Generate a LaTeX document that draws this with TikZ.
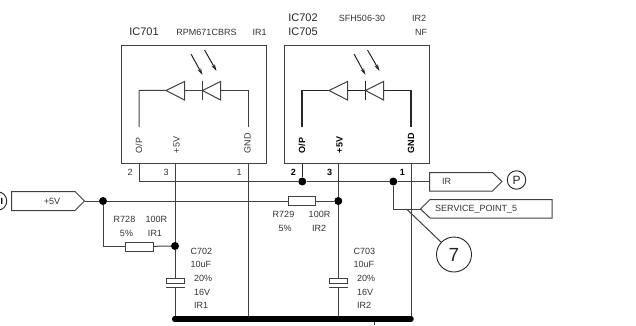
\documentclass[tikz,border=0pt]{standalone}
\usepackage{fontspec}
\setmainfont{Liberation Sans}
\usetikzlibrary{arrows.meta}
\tikzset{
  wire/.style={line width=1pt,black!75},
  heavy/.style={line width=1.2pt,black!85},
  tag/.style={line width=1pt,black!75},
  jn/.style={circle,fill=black,inner sep=0pt,minimum size=8pt},
  jns/.style={circle,fill=black,inner sep=0pt,minimum size=6pt},
  lbl/.style={inner sep=0pt,font=\fontsize{9}{10}\selectfont,text=black!80},
  big/.style={inner sep=0pt,font=\fontsize{11}{12}\selectfont,text=black!85},
  pinl/.style={lbl,rotate=90},
  num/.style={lbl},
  numb/.style={lbl,font=\fontsize{9}{10}\selectfont\bfseries,text=black},
  pinb/.style={pinl,font=\fontsize{9}{10}\selectfont\bfseries,text=black},
  res/.style={draw,black!75,line width=1pt,fill=white,minimum width=27.5pt,minimum height=9pt,inner sep=0pt},
  ring/.style={draw,circle,black!85,line width=0.9pt,inner sep=0pt},
  ray/.style={-{Stealth[open,length=7pt,width=4pt]},line width=1pt,black!85}
}
\begin{document}
\begin{tikzpicture}[x=1pt,y=-1pt]
  \useasboundingbox (0,0) rectangle (636,326);
  % IC701
  \node[big] (ic701) at (144,31.5) {IC701};
  \node[lbl] (type1) at (206.5,32.5) {RPM671CBRS};
  \node[lbl] (ir1) at (259.5,32.5) {IR1};
  \node[draw,wire,minimum width=145pt,minimum height=118pt,inner sep=0pt] (box1) at (193.5,104.5) {};
  \coordinate (op1) at (139,127);
  \coordinate (gnd1) at (248,127);
  \draw[wire] (op1) -- (139,90.5) -- (166,90.5) -- (184.5,81.5) -- (184.5,100) -- (166,90.5);
  \draw[wire] (184.5,90.5) -- (202.5,90.5);
  \draw[wire] (202.5,81) -- (202.5,100);
  \draw[wire] (202.5,90.5) -- (220.5,81.5) -- (220.5,100) -- cycle;
  \draw[wire] (220.5,90.5) -- (248,90.5) -- (gnd1);
  \draw[ray] (191,54) -- (202.5,75);
  \draw[ray] (204.5,50) -- (216.5,71);
  \node[pinl] (pa1) at (139,145.5) {O/P};
  \node[pinl] (pb1) at (176.5,145) {+5V};
  \node[pinl] (pc1) at (247.5,143.3) {GND};
  % IC702
  \node[big] (ic702) at (303,18) {IC702};
  \node[big] (ic705) at (303,31.5) {IC705};
  \node[lbl] (type2) at (362,18.5) {SFH506-30};
  \node[lbl] (ir2) at (419,18.5) {IR2};
  \node[lbl] (nf) at (421,32.5) {NF};
  \node[draw,wire,minimum width=145pt,minimum height=118pt,inner sep=0pt] (box2) at (356.5,104.5) {};
  \coordinate (op2) at (302,127);
  \coordinate (gnd2) at (411,127);
  \draw[heavy] (op2) -- (302,90.5) -- (329,90.5);
  \draw[wire] (329,90.5) -- (347.5,81.5) -- (347.5,100) -- cycle;
  \draw[heavy] (347.5,90.5) -- (365.5,90.5);
  \draw[heavy] (365.5,81) -- (365.5,100);
  \draw[wire] (365.5,90.5) -- (383.5,81.5) -- (383.5,100) -- cycle;
  \draw[heavy] (383.5,90.5) -- (411,90.5) -- (gnd2);
  \draw[ray] (354,54) -- (365.5,75);
  \draw[ray] (367.5,50) -- (379.5,71);
  \node[pinb] (pa2) at (302,145.5) {O/P};
  \node[pinb] (pb2) at (339.5,145) {+5V};
  \node[pinb] (pc2) at (411,143.3) {GND};
  % tags
  \node[lbl] (tv) at (52,201) {+5V};
  \coordinate (v1) at (84.5,201);
  \draw[tag] (11.5,191.5) -- (75,191.5) -- (v1) -- (75,210.5) -- (11.5,210.5) -- cycle;
  \coordinate (s1) at (420.5,209);
  \draw[tag] (s1) -- (430,199.5) -- (552,199.5) -- (552,218) -- (430,218) -- cycle;
  \node[lbl,anchor=west] (tsp) at (435,209) {SERVICE\_POINT\_5};
  \coordinate (i1) at (429.5,181.5);
  \draw[tag] (i1) -- (429.5,172.5) -- (492.5,172.5) -- (502,181.5) -- (492.5,191) -- (429.5,191) -- cycle;
  \node[lbl] (tir) at (446.5,181.5) {IR};
  \node[ring,minimum size=18.5pt,font=\fontsize{12}{13}\selectfont] (P) at (516.5,180) {P};
  \node[ring,minimum size=18.5pt] (D) at (-2.5,201) {};
  \node[lbl,font=\fontsize{9}{10}\selectfont\bfseries,text=black] (Dl) at (1.8,201) {I};
  \node[ring,minimum size=35pt,font=\fontsize{19}{20}\selectfont] (seven) at (454,254.5) {7};
  % junctions
  \node[jn] (j1) at (103,201) {};
  \node[jn] (j2) at (175,246) {};
  \node[jn] (j3) at (302.3,181.5) {};
  \node[jn] (j4) at (393.3,181.5) {};
  \node[jn] (j5) at (338.3,201) {};
  \node[res] (r728) at (139.3,246.5) {};
  \node[res] (r729) at (302.2,201) {};
  % nets
  \coordinate (bl) at (175,319);
  \coordinate (bg1) at (248,319);
  \coordinate (bv2) at (338.3,319);
  \coordinate (bo) at (374.7,319);
  \coordinate (bg2) at (411,319);
  \coordinate (so) at (374.7,325);
  \coordinate (sv) at (393.3,209);
  \coordinate (sl) at (406.5,209);
  \draw[wire] (139,163.5) -- (139,181.5) -- (j3);
  \draw[heavy] (302.3,163.5) -- (j3);
  \draw[wire] (j3) -- (j4);
  \draw[wire] (j4) -- (i1);
  \draw[wire] (j4) -- (sv) -- (s1);
  \draw[wire] (sl) -- (seven);
  \draw[wire] (v1) -- (j1) -- (r729);
  \draw[wire] (r729) -- (j5);
  \draw[wire] (j1) |- (r728);
  \draw[wire] (r728) -- (j2);
  \draw[wire] (175,163.5) -- (j2);
  \draw[wire] (j2) -- (175,278);
  \draw[wire] (175,287) -- (bl);
  \draw[wire,fill=white] (166,278) rectangle (184.5,283);
  \draw[wire] (166,287) -- (184.5,287);
  \draw[wire] (248,163.5) -- (bg1);
  \draw[wire] (338.3,163.5) -- (j5);
  \draw[wire] (j5) -- (338.3,278);
  \draw[wire] (338.3,287) -- (bv2);
  \draw[wire,fill=white] (329.3,278) rectangle (347.8,283);
  \draw[wire] (329.3,287) -- (347.8,287);
  \draw[wire] (411,163.5) -- (bg2);
  \draw[line width=5.5pt,line cap=round] (bl) -- (bg2);
  \draw[wire] (bo) -- (so);
  \node[jns] (b1) at (bl) {};
  \node[jns] (b2) at (bg1) {};
  \node[jns] (b3) at (bv2) {};
  \node[jns] (b4) at (bo) {};
  % pin numbers
  \node[num] (n12) at (130,172.5) {2};
  \node[num] (n13) at (166,172.5) {3};
  \node[num] (n11) at (239,172.5) {1};
  \node[numb] (n22) at (293.3,172.5) {2};
  \node[numb] (n23) at (329.7,172.5) {3};
  \node[numb] (n21) at (402.3,172.5) {1};
  % parts
  \node[lbl] (r1a) at (124.5,219.5) {R728};
  \node[lbl] (r1b) at (156.3,219.5) {100R};
  \node[lbl] (r1c) at (126.5,233) {5\%};
  \node[lbl] (r1d) at (155,233) {IR1};
  \node[lbl] (r2a) at (283.5,214.5) {R729};
  \node[lbl] (r2b) at (319.5,214.5) {100R};
  \node[lbl] (r2c) at (285,228.5) {5\%};
  \node[lbl] (r2d) at (319,228.5) {IR2};
  \node[lbl,anchor=west] (c1a) at (190.5,251.5) {C702};
  \node[lbl,anchor=west] (c1b) at (190.5,264.5) {10uF};
  \node[lbl,anchor=west] (c1c) at (194,278.5) {20\%};
  \node[lbl,anchor=west] (c1d) at (194,292.5) {16V};
  \node[lbl,anchor=west] (c1e) at (194,305) {IR1};
  \node[lbl,anchor=west] (c2a) at (353.5,251.5) {C703};
  \node[lbl,anchor=west] (c2b) at (353.5,264.5) {10uF};
  \node[lbl,anchor=west] (c2c) at (357,278.5) {20\%};
  \node[lbl,anchor=west] (c2d) at (357,292.5) {16V};
  \node[lbl,anchor=west] (c2e) at (357,305) {IR2};
\end{tikzpicture}
\end{document}
